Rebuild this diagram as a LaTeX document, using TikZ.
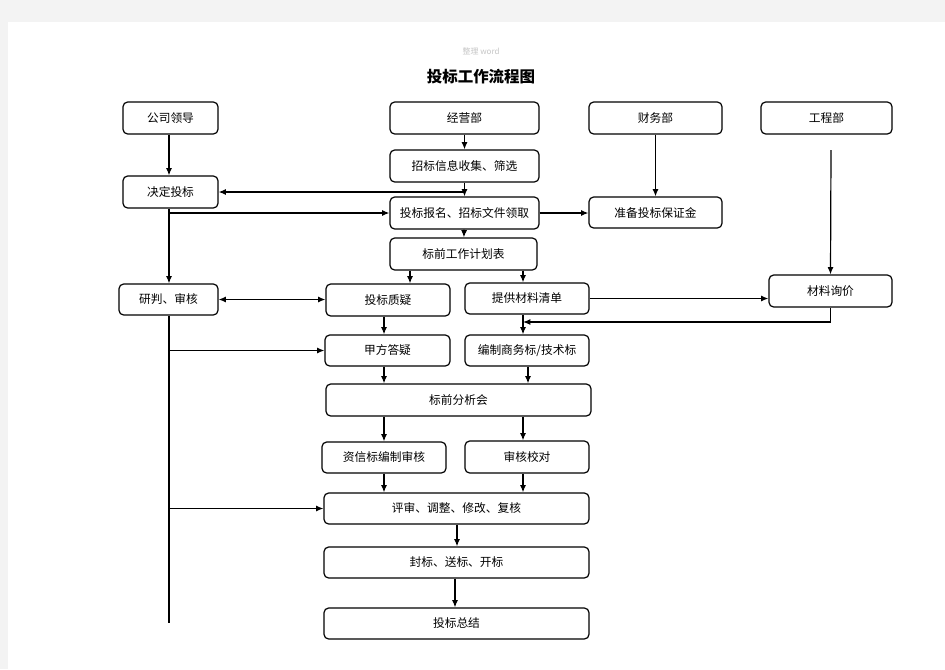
\documentclass[tikz,border=0pt]{standalone}
\usepackage{fontspec}
\newfontfamily\cjk{Noto Sans CJK SC}
\usetikzlibrary{arrows.meta}
\definecolor{bg}{HTML}{F3F3F3}
\begin{document}
\begin{tikzpicture}[x=0.75pt,y=-0.75pt,
  box/.style={draw, rounded corners=3.5pt, line width=0.9pt, inner sep=0pt,
    font=\cjk\fontsize{8.8}{10}\selectfont},
  sz/.style 2 args={minimum width=#1*0.75pt, minimum height=#2*0.75pt},
  arr/.style={-{Latex[length=5.5pt,width=4.5pt]}, line width=0.9pt},
  dbl/.style={{Latex[length=5.5pt,width=4.5pt]}-{Latex[length=5.5pt,width=4.5pt]}, line width=0.9pt},
  ln/.style={line width=0.9pt}]
\useasboundingbox (0,0) rectangle (945,669);
\fill[bg] (0,0) rectangle (945,669);
\fill[white] (8,22) rectangle (945,669);

\node[font=\cjk\fontsize{6}{7}\selectfont, text=gray!45] (wm) at (481,51) {整理 word};
\node[font=\cjk\bfseries\fontsize{11.6}{14}\selectfont] (title) at (481,77) {投标工作流程图};

% boxes
\node[box, sz={95}{32}]  (lead)   at (170.5,118) {公司领导};
\node[box, sz={149}{32}] (jy)     at (464.5,118) {经营部};
\node[box, sz={133}{32}] (cw)     at (655.5,118) {财务部};
\node[box, sz={131}{32}] (gc)     at (826.5,118) {工程部};
\node[box, sz={149}{32}] (info)   at (464.5,166) {招标信息收集、筛选};
\node[box, sz={95}{32}]  (decide) at (170.5,192) {决定投标};
\node[box, sz={149}{32}] (reg)    at (464.5,213) {投标报名、招标文件领取};
\node[box, sz={133}{31}] (bond)   at (655.5,212.5) {准备投标保证金};
\node[box, sz={147}{32}] (plan)   at (463.5,254) {标前工作计划表};
\node[box, sz={99}{31}]  (judge)  at (168.5,299.5) {研判、审核};
\node[box, sz={124}{32}] (query)  at (388,300) {投标质疑};
\node[box, sz={124}{31}] (list)   at (527,298.5) {提供材料清单};
\node[box, sz={123}{32}] (price)  at (830.5,291) {材料询价};
\node[box, sz={125}{31}] (answer) at (387.5,350.5) {甲方答疑};
\node[box, sz={124}{31}] (bid)    at (527,350.5) {编制商务标/技术标};
\node[box, sz={265}{32}] (meet)   at (458.5,400) {标前分析会};
\node[box, sz={124}{31}] (credit) at (384,457.5) {资信标编制审核};
\node[box, sz={124}{32}] (check)  at (527,457) {审核校对};
\node[box, sz={265}{31}] (review) at (456.5,508.5) {评审、调整、修改、复核};
\node[box, sz={265}{31}] (seal)   at (456.5,562.5) {封标、送标、开标};
\node[box, sz={265}{31}] (sum)    at (456.5,623.5) {投标总结};

% column coordinates
\coordinate (xL) at (410,0);
\coordinate (xA) at (384,0);
\coordinate (xB) at (523,0);
\coordinate (xC) at (528,0);
\coordinate (xE) at (457,0);
\coordinate (xF) at (455,0);
\coordinate (xJ) at (169,0);
\coordinate (gcs) at (831,150);
\coordinate (jend) at (169,623);
\coordinate (m1) at (523,322);

% connectors
\draw[arr] (xJ |- lead.south) -- (xJ |- decide.north);
\draw[arr] (jy) -- (info);
\draw[arr] (info) -- (reg);
\draw[arr] (info.south |- decide.east) -- (decide.east);
\draw[arr] (xJ |- decide.south) -- (xJ |- judge.north);
\draw[arr] (xJ |- reg.west) -- (reg.west);
\draw[arr] (reg.east) -- (reg.east -| bond.west);
\draw[arr] (cw) -- (bond);
\draw[arr] (gcs) -- (price.north);
\draw[arr] (reg) -- (plan);
\draw[arr] (xL |- plan.south) -- (xL |- query.north);
\draw[arr] (xB |- plan.south) -- (xB |- list.north);
\draw[dbl] (judge.east) -- (judge.east -| query.west);
\draw[ln] (xJ |- judge.south) -- (jend);
\draw[arr] (xJ |- answer.west) -- (answer.west);
\draw[arr] (xJ |- review.west) -- (review.west);
\draw[arr] (list.east) -- (list.east -| price.west);
\draw[arr] (price.south) |- (m1);
\draw[arr] (xB |- list.south) -- (xB |- bid.north);
\draw[arr] (xA |- query.south) -- (xA |- answer.north);
\draw[arr] (xA |- answer.south) -- (xA |- meet.north);
\draw[arr] (xC |- bid.south) -- (xC |- meet.north);
\draw[arr] (xA |- meet.south) -- (xA |- credit.north);
\draw[arr] (xB |- meet.south) -- (xB |- check.north);
\draw[arr] (xA |- credit.south) -- (xA |- review.north);
\draw[arr] (xB |- check.south) -- (xB |- review.north);
\draw[arr] (xE |- review.south) -- (xE |- seal.north);
\draw[arr] (xF |- seal.south) -- (xF |- sum.north);
\end{tikzpicture}
\end{document}
